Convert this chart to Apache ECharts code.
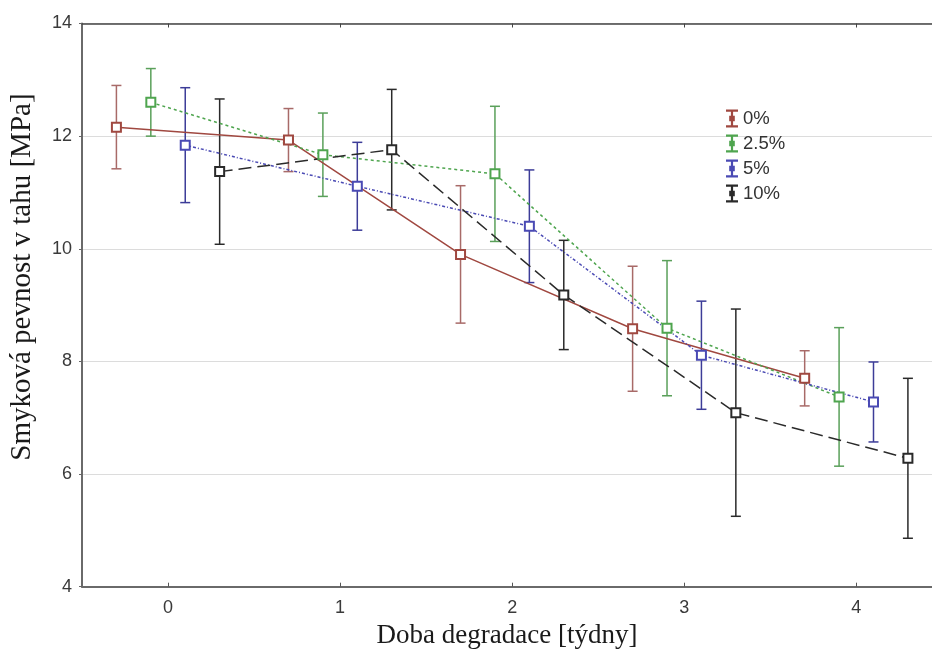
<!DOCTYPE html>
<html>
<head>
<meta charset="utf-8">
<script src="https://cdn.jsdelivr.net/npm/echarts@6/dist/echarts.min.js"></script>
<style>
  html, body { margin: 0; padding: 0; background: #fff; }
  #chart { width: 932px; height: 657px; }
</style>
</head>
<body>
<div id="chart"></div>
<script>
// Degradation time (weeks) and filler content groups
const weeks = [0, 1, 2, 3, 4];
const groups = ['0%', '2.5%', '5%', '10%'];

// Mean shear strength [MPa] and standard deviation per group
const mean0  = [12.16, 11.93, 9.90, 8.58, 7.70];
const sd0    = [0.74, 0.56, 1.22, 1.11, 0.49];
const mean25 = [12.60, 11.67, 11.33, 8.59, 7.37];
const sd25   = [0.60, 0.74, 1.20, 1.20, 1.23];
const mean5  = [11.84, 11.11, 10.40, 8.11, 7.28];
const sd5    = [1.02, 0.78, 1.00, 0.96, 0.71];
const mean10 = [11.37, 11.76, 9.18, 7.09, 6.28];
const sd10   = [1.29, 1.07, 0.97, 1.84, 1.42];

const xTicks = [0, 1, 2, 3, 4];
const yTicks = [4, 6, 8, 10, 12, 14];

// Horizontal shift of each group so the error bars do not overlap
const shift = [-0.3, -0.1, 0.1, 0.3];

const means = [mean0, mean25, mean5, mean10];
const sds = [sd0, sd25, sd5, sd10];

const lineColors = ['#a04840', '#4fa54f', '#4a4ab4', '#2a2a2a'];
const barColors  = ['#a86a68', '#5aa05a', '#3c3c98', '#2a2a2a'];
const dashes = ['solid', [3, 3], [3, 2, 1, 2], [13, 6]];

const serif = '"Liberation Serif", "DejaVu Serif", serif';
const sans = '"Liberation Sans", Arial, sans-serif';

const series = [];
groups.forEach(function (g, i) {
  const pts = weeks.map(function (w, k) { return [w + shift[i], means[i][k]]; });
  const bars = weeks.map(function (w, k) {
    return [w + shift[i], means[i][k] - sds[i][k], means[i][k] + sds[i][k]];
  });
  const barColor = barColors[i];
  series.push({
    type: 'custom',
    name: g + ' sd',
    xAxisIndex: 0,
    yAxisIndex: 0,
    encode: { x: 0, y: [1, 2] },
    data: bars,
    z: 2,
    silent: true,
    renderItem: function (params, api) {
      const x = api.value(0);
      const lo = api.coord([x, api.value(1)]);
      const hi = api.coord([x, api.value(2)]);
      const w = 5;
      const st = { stroke: barColor, lineWidth: 1.5 };
      return {
        type: 'group',
        children: [
          { type: 'line', shape: { x1: lo[0], y1: lo[1], x2: hi[0], y2: hi[1] }, style: st },
          { type: 'line', shape: { x1: lo[0] - w, y1: lo[1], x2: lo[0] + w, y2: lo[1] }, style: st },
          { type: 'line', shape: { x1: hi[0] - w, y1: hi[1], x2: hi[0] + w, y2: hi[1] }, style: st }
        ]
      };
    }
  });
  series.push({
    type: 'line',
    name: g,
    xAxisIndex: 0,
    yAxisIndex: 0,
    data: pts,
    z: 3,
    symbol: 'emptyRect',
    symbolSize: 9,
    color: lineColors[i],
    lineStyle: { color: lineColors[i], width: 1.5, type: dashes[i] },
    itemStyle: { color: lineColors[i], borderColor: lineColors[i], borderWidth: 1.5 },
    animation: false
  });
});

// Error-bar glyph used as legend icon
const errIcon = 'path://M0,0H12V2.2H0Z M4.9,0H7.1V18H4.9Z M0,15.8H12V18H0Z M3.2,6.2H8.8V11.8H3.2Z';

const chart = echarts.init(document.getElementById('chart'), null, { renderer: 'canvas' });
chart.setOption({
  backgroundColor: '#ffffff',
  animation: false,
  grid: { left: 82, right: 0, top: 23.5, bottom: 70.3 },
  legend: {
    orient: 'vertical',
    left: 721,
    top: 104,
    itemWidth: 12,
    itemHeight: 18,
    itemGap: 6,
    data: groups.map(function (g) { return { name: g, icon: errIcon }; }),
    itemStyle: { borderWidth: 0 },
    textStyle: { fontFamily: sans, fontSize: 18.5, color: '#333', padding: [0, 0, 0, 0] },
    selectedMode: false
  },
  xAxis: [
    {
      type: 'value',
      min: -0.5,
      max: 4.44,
      name: 'Doba degradace [týdny]',
      nameLocation: 'middle',
      nameGap: 36,
      nameTextStyle: { fontFamily: serif, fontSize: 27, color: '#1a1a1a' },
      axisLine: { show: true, onZero: false, lineStyle: { color: '#6a6a6a', width: 2 } },
      axisTick: { show: true, inside: true, length: 4, customValues: xTicks, lineStyle: { color: '#555' } },
      axisLabel: { customValues: xTicks, margin: 12, fontFamily: sans, fontSize: 18, color: '#3a3a3a' },
      splitLine: { show: false }
    },
    {
      type: 'value',
      position: 'top',
      min: -0.5,
      max: 4.44,
      axisLine: { show: true, onZero: false, lineStyle: { color: '#444', width: 1.5 } },
      axisTick: { show: true, inside: true, length: 4, customValues: xTicks, lineStyle: { color: '#444' } },
      axisLabel: { show: false },
      splitLine: { show: false }
    }
  ],
  yAxis: {
    type: 'value',
    min: 4,
    max: 14,
    interval: 2,
    name: 'Smyková pevnost v tahu [MPa]',
    nameLocation: 'middle',
    nameGap: 45,
    nameTextStyle: { fontFamily: serif, fontSize: 29, color: '#1a1a1a', padding: [0, 0, 0, 56] },
    axisLine: { show: true, onZero: false, lineStyle: { color: '#6a6a6a', width: 2 } },
    axisTick: { show: true, length: 3, lineStyle: { color: '#666' } },
    axisLabel: { customValues: yTicks, margin: 10, fontFamily: sans, fontSize: 18, color: '#3a3a3a' },
    splitLine: { show: true, lineStyle: { color: '#dcdcdc', width: 1 } }
  },
  series: series
});
</script>
</body>
</html>
